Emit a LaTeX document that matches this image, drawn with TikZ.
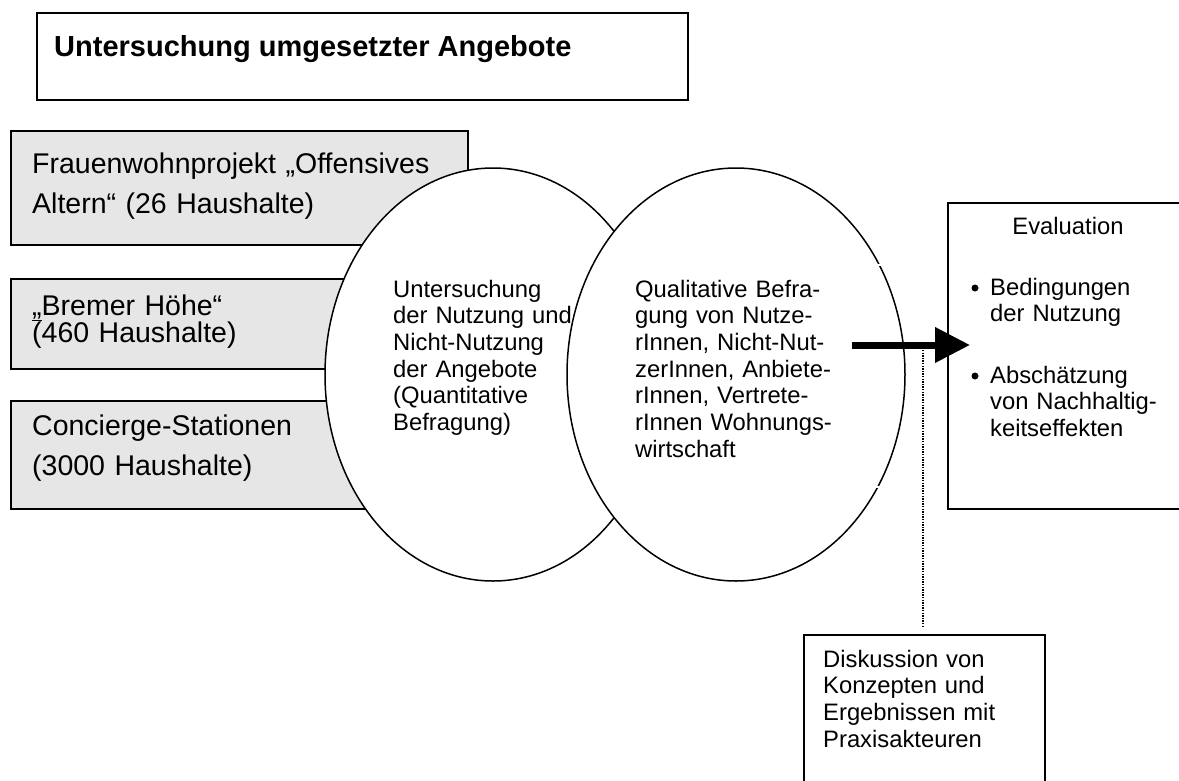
\documentclass[tikz,border=0pt]{standalone}
\usepackage{fontspec}
\setmainfont{Liberation Sans}
\usetikzlibrary{shapes.geometric,arrows.meta}
\definecolor{boxgray}{RGB}{230,230,230}
\begin{document}
\begin{tikzpicture}[x=1pt,y=-1pt,
  frame/.style={draw, line width=1.5pt, anchor=north west, inner sep=0pt},
  graybox/.style={frame, fill=boxgray},
  oval/.style={ellipse, draw, line width=1.5pt, fill=white, inner sep=0pt, minimum height=413pt},
  bigtxt/.style={anchor=base west, inner sep=0pt, font=\fontsize{28.5}{40}\selectfont},
  smalltxt/.style={anchor=base west, inner sep=0pt, align=left, font=\fontsize{23.8}{26.7}\selectfont},
  bulletdot/.style={circle, fill=black, inner sep=0pt, minimum size=7pt}
]
\useasboundingbox (0,0) rectangle (1179,780);
\fill[white] (0,0) rectangle (1179,780);

% title
\node[frame, minimum width=651pt, minimum height=87pt] (title) at (36,12) {};
\node[anchor=base west, inner sep=0pt, font=\fontsize{29}{34}\selectfont\bfseries] (titletxt) at (54,56) {Untersuchung umgesetzter Angebote};

% gray boxes
\node[graybox, minimum width=457pt, minimum height=114pt] (box1) at (10,130) {};
\node[graybox, minimum width=457pt, minimum height=90pt] (box2) at (10,278) {};
\node[graybox, minimum width=457pt, minimum height=108pt] (box3) at (10,400) {};
\node[bigtxt, text width=440pt, align=left] (t1) at (32,173) {Frauenwohnprojekt „Offensives\\Altern“ (26 Haushalte)};
\node[bigtxt, text width=440pt, align=left, font=\fontsize{28.5}{27}\selectfont] (t2) at (32,315) {\underline{„}Bremer Höhe“\\(460 Haushalte)};
\node[bigtxt, text width=440pt, align=left] (t3) at (32,435) {Concierge-Stationen\\(3000 Haushalte)};

% ellipses
\node[oval, minimum width=336pt] (ell1) at (493,374.5) {};
\node[oval, minimum width=338pt] (ell2) at (736,374.5) {};
\draw[white, line width=2.2pt] (873,265) -- (886,265);
\draw[white, line width=2.2pt] (872,487) -- (885,487);

\node[smalltxt, text width=200pt] (q1) at (393,297) {Untersuchung\\der Nutzung und\\Nicht-Nutzung\\der Angebote\\(Quantitative\\Befragung)};
\node[smalltxt, text width=230pt] (q2) at (635,297) {Qualitative Befra-\\gung von Nutze-\\rInnen, Nicht-Nut-\\zerInnen, Anbiete-\\rInnen, Vertrete-\\rInnen Wohnungs-\\wirtschaft};

% evaluation box
\node[frame, fill=white, minimum width=250pt, minimum height=306pt] (eval) at (947,202) {};
\node[anchor=base, inner sep=0pt, font=\fontsize{23.8}{26.7}\selectfont] (evalt) at (1068,234) {Evaluation};
\node[bulletdot] (b1) at (975,288) {};
\node[smalltxt, text width=180pt] (e1) at (990,295) {Bedingungen\\der Nutzung};
\node[bulletdot] (b2) at (975,376) {};
\node[smalltxt, text width=180pt] (e2) at (990,383) {Abschätzung\\von Nachhaltig-\\keitseffekten};

% discussion box
\node[frame, fill=white, minimum width=241pt, minimum height=180pt] (disk) at (803,634) {};
\node[smalltxt, text width=220pt] (dt) at (823,667) {Diskussion von\\Konzepten und\\Ergebnissen mit\\Praxisakteuren};

% dotted connector
\coordinate (dotA) at (923,350);
\coordinate (dotB) at (923,627);
\draw[line width=1.4pt, dash pattern=on 1.3pt off 1.3pt] (dotA) -- (dotB);

% arrow
\coordinate (arrS) at (852,345);
\coordinate (arrE) at (970,345);
\draw[line width=7pt, -{Triangle[length=35pt, width=34pt]}] (arrS) -- (arrE);
\end{tikzpicture}
\end{document}
